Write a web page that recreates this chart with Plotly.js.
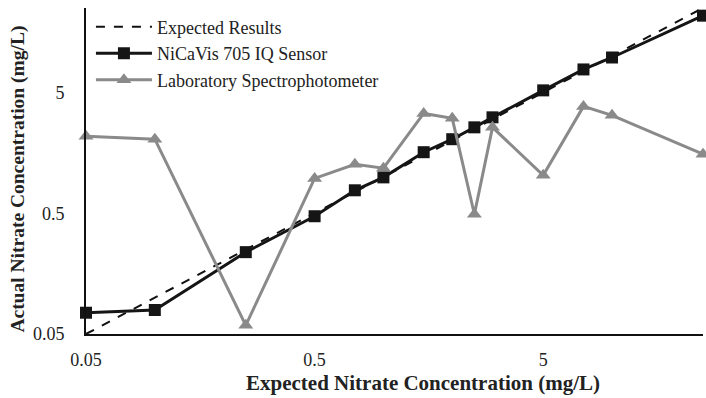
<!DOCTYPE html>
<html>
<head>
<meta charset="utf-8">
<script src="https://cdn.plot.ly/plotly-3.0.1.min.js"></script>
<style>
  html, body { margin: 0; padding: 0; background: #ffffff; }
  #chart { width: 706px; height: 398px; }
</style>
</head>
<body>
<div id="chart"></div>
<script>
const expectedConc = [0.05, 0.1, 0.25, 0.5, 0.75, 1, 1.5, 2, 2.5, 3, 5, 7.5, 10, 25];
const nicavisValues = [0.075, 0.079, 0.238, 0.472, 0.774, 0.99, 1.6, 2.05, 2.57, 3.11, 5.2, 7.75, 9.73, 21.6];
const labValues = [2.17, 2.05, 0.059, 0.97, 1.27, 1.18, 3.35, 3.05, 0.49, 2.57, 1.03, 3.83, 3.23, 1.54];
const expectedLine = [0.05, 25];
const tickValues = [0.05, 0.5, 5];
const tickLabels = ['0.05', '0.5', '5'];
const seriesNames = ['Expected Results', 'NiCaVis 705 IQ Sensor', 'Laboratory Spectrophotometer'];
const xTitle = 'Expected Nitrate Concentration (mg/L)';
const yTitle = 'Actual Nitrate Concentration (mg/L)';

const serif = 'Liberation Serif, Times New Roman, serif';

const traces = [
  {
    x: expectedLine, y: expectedLine, name: seriesNames[0],
    mode: 'lines', type: 'scatter',
    line: { color: '#111111', width: 2, dash: 'dash' },
    cliponaxis: false
  },
  {
    x: expectedConc, y: nicavisValues, name: seriesNames[1],
    mode: 'lines+markers', type: 'scatter',
    line: { color: '#151515', width: 3 },
    marker: { symbol: 'square', size: 12, color: '#151515' },
    cliponaxis: false
  },
  {
    x: expectedConc, y: labValues, name: seriesNames[2],
    mode: 'lines+markers', type: 'scatter',
    line: { color: '#8a8a8a', width: 3 },
    marker: { symbol: 'triangle-up', size: 13, color: '#8a8a8a' },
    cliponaxis: false
  }
];

const axisCommon = {
  type: 'log',
  range: [Math.log10(0.05), Math.log10(25)],
  tickmode: 'array',
  tickvals: tickValues,
  ticktext: tickLabels,
  showgrid: false,
  zeroline: false,
  showline: true,
  linecolor: '#111111',
  linewidth: 2,
  ticks: '',
  tickfont: { family: serif, size: 18, color: '#222222' }
};

const layout = {
  width: 706, height: 398,
  margin: { l: 86, r: 3, t: 8, b: 64 },
  paper_bgcolor: '#ffffff',
  plot_bgcolor: '#ffffff',
  showlegend: true,
  legend: {
    x: 0.008, y: 0.998, xanchor: 'left', yanchor: 'top',
    bgcolor: 'rgba(0,0,0,0)',
    font: { family: serif, size: 18, color: '#222222' },
    itemwidth: 56,
    tracegroupgap: 0
  },
  xaxis: Object.assign({}, axisCommon, { ticklabelstandoff: 8 }),
  yaxis: Object.assign({}, axisCommon, { ticklabelstandoff: 16 }),
  annotations: [
    {
      text: '<b>' + xTitle + '</b>', xref: 'paper', yref: 'paper',
      x: 0.547, y: -0.15, xanchor: 'center', yanchor: 'middle',
      showarrow: false, font: { family: serif, size: 21, color: '#222222' }
    },
    {
      text: '<b>' + yTitle + '</b>', xref: 'paper', yref: 'paper',
      x: -0.11, y: 0.474, xanchor: 'center', yanchor: 'middle', textangle: -90,
      showarrow: false, font: { family: serif, size: 19.5, color: '#222222' }
    }
  ]
};

Plotly.newPlot('chart', traces, layout, { displayModeBar: false, staticPlot: true });
</script>
</body>
</html>
